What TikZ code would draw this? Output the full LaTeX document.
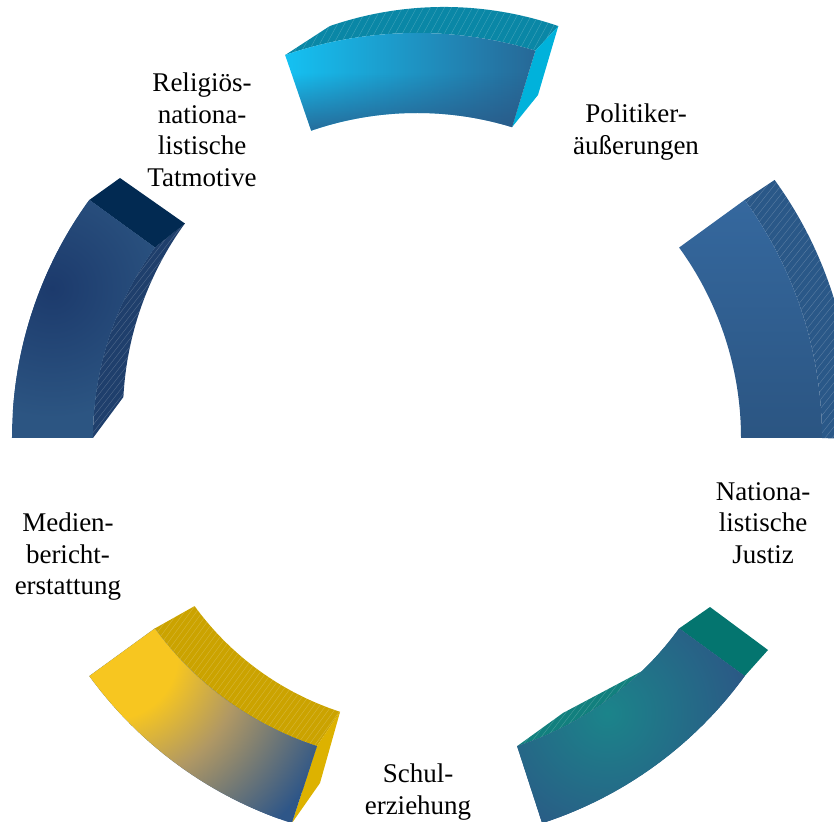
\documentclass[tikz,border=0pt]{standalone}
\usepackage{fontspec}
\setmainfont{Liberation Serif}
\usetikzlibrary{fadings}
\definecolor{cyanA}{RGB}{20,196,245}
\definecolor{blueA}{RGB}{43,84,130}
\definecolor{topA}{RGB}{10,135,166}
\definecolor{endA}{RGB}{0,178,219}
\definecolor{blueBtop}{RGB}{53,104,158}
\definecolor{blueBbot}{RGB}{43,85,130}
\definecolor{hatchB}{RGB}{42,88,136}
\definecolor{navyC}{RGB}{28,58,108}
\definecolor{blueC}{RGB}{44,85,130}
\definecolor{endC}{RGB}{2,42,82}
\definecolor{hatchC}{RGB}{31,63,108}
\definecolor{yellowD}{RGB}{247,198,32}
\definecolor{tanD}{RGB}{176,152,100}
\definecolor{blueD}{RGB}{46,86,136}
\definecolor{hatchD}{RGB}{203,163,0}
\definecolor{endD}{RGB}{221,178,0}
\definecolor{tealE}{RGB}{27,132,138}
\definecolor{blueE}{RGB}{44,86,133}
\definecolor{hatchE}{RGB}{18,128,126}
\definecolor{endE}{RGB}{4,117,111}
\pgfdeclareradialshading{yellowblue}{\pgfpoint{0bp}{0bp}}{color(0bp)=(yellowD); color(7bp)=(yellowD); color(14bp)=(tanD); color(25bp)=(blueD); color(50bp)=(blueD)}
\tikzset{
  hatchln/.style={white, opacity=0.22, line width=0.4pt},
  lbl/.style={font=\fontsize{27}{31.5}\selectfont, align=center, inner sep=0pt, text=black}
}
\begin{document}
\begin{tikzpicture}[x=1pt,y=1pt]
\useasboundingbox (-417,-383) rectangle (417,438);
% ---------- Segment A (top) ----------
\fill[topA] (109:405) arc[start angle=109,end angle=73,radius=405] -- (141.3,411.9) arc[start angle=71,end angle=109,radius=351] -- cycle;
\begin{scope}
\clip (109:405) arc[start angle=109,end angle=73,radius=405] -- (141.3,411.9) arc[start angle=71,end angle=109,radius=351] -- cycle;
\foreach \i in {-175,-168,...,150} \draw[hatchln] (\i,380) -- ++(30,55);
\end{scope}
\fill[endA] (73:405) -- (141.3,411.9) -- (121,343) -- (73:325) -- cycle;
\begin{scope}
\clip (109:405) arc[start angle=109,end angle=73,radius=405] -- (73:325) arc[start angle=73,end angle=109,radius=325] -- cycle;
\shade[left color=cyanA, right color=blueA] (-140,300) rectangle (175,410);
\fill[blueA, path fading=north, fill opacity=0.85] (-140,300) rectangle (175,365);
\end{scope}
% ---------- Segment B (right) ----------
\fill[hatchB] (36:405) arc[start angle=36,end angle=0,radius=405] -- (434.4,-1.2) arc[start angle=-3,end angle=36,radius=405] -- cycle;
\begin{scope}
\clip (36:405) arc[start angle=36,end angle=0,radius=405] -- (434.4,-1.2) arc[start angle=-3,end angle=36,radius=405] -- cycle;
\foreach \i in {110,117,...,440} \draw[hatchln] (\i,-5) -- ++(215,270);
\end{scope}
\shade[top color=blueBtop, bottom color=blueBbot] (36:324) -- (36:405) arc[start angle=36,end angle=0,radius=405] -- (0:324) arc[start angle=0,end angle=36,radius=324] -- cycle;
% ---------- Segment C (left) ----------
\fill[hatchC] (144:324) arc[start angle=144,end angle=180,radius=324] -- (-293.6,41) arc[start angle=177,end angle=144,radius=324] -- cycle;
\begin{scope}
\clip (144:324) arc[start angle=144,end angle=180,radius=324] -- (-293.6,41) arc[start angle=177,end angle=144,radius=324] -- cycle;
\foreach \i in {-500,-494,...,-225} \draw[hatchln] (\i,-5) -- ++(175,225);
\end{scope}
\fill[endC] (144:405) -- (-297,260) -- (-232,214.4) -- (144:324) -- cycle;
\begin{scope}
\clip (144:405) arc[start angle=144,end angle=180,radius=405] -- (180:324) arc[start angle=180,end angle=144,radius=324] -- cycle;
\fill[blueC] (-420,-10) rectangle (-250,250);
\shade[inner color=navyC, outer color=blueC] (-365,150) circle (130);
\end{scope}
% ---------- Segment D (yellow) ----------
\fill[hatchD] (216:324) arc[start angle=216,end angle=252,radius=324] -- (-76.9,-273.8) arc[start angle=252,end angle=216,radius=291] -- cycle;
\begin{scope}
\clip (216:324) arc[start angle=216,end angle=252,radius=324] -- (-76.9,-273.8) arc[start angle=252,end angle=216,radius=291] -- cycle;
\foreach \i in {-390,-384,...,-60} \draw[hatchln] (\i,-315) -- ++(110,150);
\end{scope}
\fill[endD] (252:324) -- (-76.9,-273.8) -- (-97,-345) -- (252:405) -- cycle;
\begin{scope}
\clip (216:405) arc[start angle=216,end angle=252,radius=405] -- (252:324) arc[start angle=252,end angle=216,radius=324] -- cycle;
\fill[blueD] (-340,-390) rectangle (-90,-180);
\shade[shading=yellowblue] (-305,-215) circle (235);
\end{scope}
% ---------- Segment E (teal) ----------
\fill[hatchE] (288:324) arc[start angle=288,end angle=314,radius=324] -- (146,-275) -- cycle;
\begin{scope}
\clip (288:324) arc[start angle=288,end angle=314,radius=324] -- (146,-275) -- cycle;
\foreach \i in {10,16,...,240} \draw[hatchln] (\i,-315) -- ++(65,85);
\end{scope}
\fill[endE] (324:324) -- (293,-169) -- (351,-212) -- (324:405) -- cycle;
\begin{scope}
\clip (288:405) arc[start angle=288,end angle=324,radius=405] -- (324:324) arc[start angle=324,end angle=288,radius=324] -- cycle;
\fill[blueE] (90,-390) rectangle (340,-180);
\shade[inner color=tealE, outer color=blueE] (190,-275) circle (150);
\end{scope}
% ---------- Labels ----------
\node[lbl] (religion) at (-215,308) {Religiös-\\nationa-\\listische\\Tatmotive};
\node[lbl] (politik) at (219,306) {Politiker-\\äußerungen};
\node[lbl] (justiz) at (346,-85) {Nationa-\\listische\\Justiz};
\node[lbl] (medien) at (-349,-119) {Medien-\\bericht-\\erstattung};
\node[lbl] (schule) at (1,-354) {Schul-\\erziehung};
\end{tikzpicture}
\end{document}
